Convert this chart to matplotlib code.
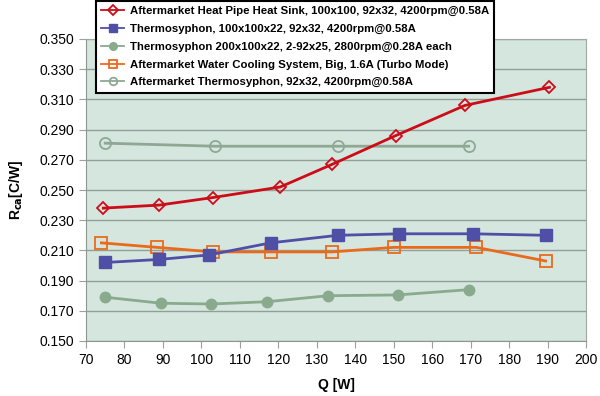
import matplotlib
matplotlib.use('Agg')
import matplotlib.pyplot as plt
from matplotlib.ticker import MultipleLocator, FormatStrFormatter

plt.rcParams['font.family'] = ['Liberation Sans', 'DejaVu Sans']

# data
hp_q = [74.5, 89, 103, 120.5, 134, 150.5, 168.5, 190.5]
hp_r = [0.238, 0.240, 0.245, 0.252, 0.267, 0.286, 0.306, 0.318]

ts_q = [75, 89, 102, 118, 135.5, 151.5, 170.5, 189.5]
ts_r = [0.202, 0.204, 0.207, 0.215, 0.220, 0.221, 0.221, 0.220]

ts2_q = [75, 89.5, 102.5, 117, 133, 151, 169.5]
ts2_r = [0.179, 0.175, 0.1745, 0.176, 0.180, 0.1805, 0.184]

wc_q = [74, 88.5, 103, 118, 134, 150, 171.5, 189.5]
wc_r = [0.215, 0.212, 0.209, 0.209, 0.209, 0.212, 0.212, 0.203]

amt_q = [75, 103.5, 135.5, 169.5]
amt_r = [0.281, 0.279, 0.279, 0.279]

y_ticks = [0.150, 0.170, 0.190, 0.210, 0.230, 0.250, 0.270, 0.290, 0.310, 0.330, 0.350]

labels = ['Aftermarket Heat Pipe Heat Sink, 100x100, 92x32, 4200rpm@0.58A',
          'Thermosyphon, 100x100x22, 92x32, 4200rpm@0.58A',
          'Thermosyphon 200x100x22, 2-92x25, 2800rpm@0.28A each',
          'Aftermarket Water Cooling System, Big, 1.6A (Turbo Mode)',
          'Aftermarket Thermosyphon, 92x32, 4200rpm@0.58A']

fig = plt.figure(figsize=(6, 3.96), dpi=100)
ax = fig.add_axes([86/600, 1-341/396, 500/600, 302/396])
ax.set_facecolor('#d5e6df')

ax.plot(hp_q, hp_r, color='#cc0c17', lw=2, marker='D', ms=6.5, mfc='none',
        mec='#cc0c17', mew=1.3, label=labels[0], zorder=5)
ax.plot(ts_q, ts_r, color='#4f4fa6', lw=2, marker='s', ms=8,
        mfc='#4f4fa6', mec='#4f4fa6', label=labels[1], zorder=4)
ax.plot(ts2_q, ts2_r, color='#8aaa8e', lw=2, marker='o', ms=7.5,
        mfc='#8aaa8e', mec='#8aaa8e', label=labels[2], zorder=3)
ax.plot(wc_q, wc_r, color='#ea6a1c', lw=2, marker='s', ms=8, mfc='none',
        mec='#ea6a1c', mew=1.3, label=labels[3], zorder=3)
ax.plot(amt_q, amt_r, color='#8fa894', lw=2, marker='o', ms=8, mfc='none',
        mec='#8fa894', mew=1.3, label=labels[4], zorder=3)

ax.set_xlim(70, 200)
ax.set_ylim(0.150, 0.350)
ax.xaxis.set_major_locator(MultipleLocator(10))
ax.set_yticks(y_ticks)
ax.yaxis.set_major_formatter(FormatStrFormatter('%.3f'))
ax.grid(axis='y', color='#90a098', lw=1)
ax.set_axisbelow(True)
for s in ax.spines.values():
    s.set_color('#a0a8a4')
ax.spines['left'].set_color('#8d9690')
ax.spines['bottom'].set_color('#8d9690')
ax.tick_params(axis='both', colors='#9aa29e', labelcolor='black',
               labelsize=10, length=5, direction='out')

ax.set_xlabel('Q [W]', fontsize=10, fontweight='bold', labelpad=8)
ax.set_ylabel(r'R$_{\mathbf{ca}}$[C/W]', fontsize=10, fontweight='bold',
              labelpad=10)

leg = ax.legend(loc='upper left', bbox_to_anchor=(0.02, 1.126),
                borderaxespad=0, fancybox=False, framealpha=1,
                edgecolor='black', prop={'size': 8.2, 'weight': 'bold'},
                handlelength=2.0, handletextpad=0.5, labelspacing=0.68,
                borderpad=0.45)
leg.get_frame().set_linewidth(1.5)
leg.set_zorder(10)
for h in leg.get_lines():
    h.set_linewidth(1.3)
    h.set_markersize(5.5)

fig.savefig('out.png', dpi=100)
